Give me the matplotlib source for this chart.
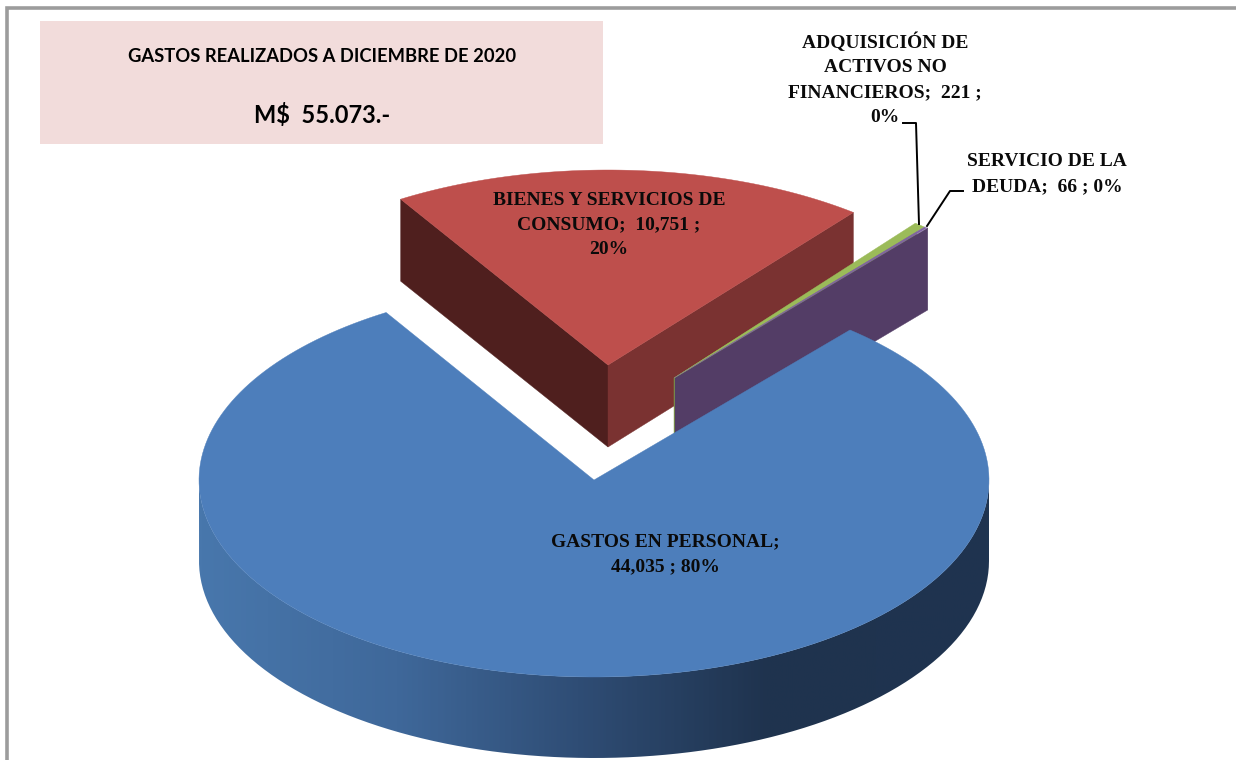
import matplotlib
matplotlib.use('Agg')
import matplotlib.pyplot as plt
import numpy as np
from matplotlib.patches import Polygon, Rectangle
from matplotlib.path import Path
from matplotlib.colors import LinearSegmentedColormap

categories = ['GASTOS EN PERSONAL', 'BIENES Y SERVICIOS DE CONSUMO',
              'ADQUISICIÓN DE ACTIVOS NO FINANCIEROS', 'SERVICIO DE LA DEUDA']
values = [44035, 10751, 221, 66]
label_text = ['GASTOS EN PERSONAL;\n44,035 ; 80%',
              'BIENES Y SERVICIOS DE\nCONSUMO;  10,751 ;\n20%',
              'ADQUISICIÓN DE\nACTIVOS NO\nFINANCIEROS;  221 ;\n0%',
              'SERVICIO DE LA\nDEUDA;  66 ; 0%']
title_text = 'GASTOS REALIZADOS A DICIEMBRE DE 2020'
total_text = 'M$  55.073.-'

start_angle = 40.4
serif = 'Liberation Serif'

# pixel canvas, y goes down like in the original
fig = plt.figure(figsize=(12.36, 7.6), dpi=100)
ax = fig.add_axes([0, 0, 1, 1])


def arc(cx, cy, rx, ry, a0, a1, n=200):
    t = np.radians(np.linspace(a0, a1, n))
    return np.column_stack([cx + rx * np.sin(t), cy - ry * np.cos(t)])


def wedge(cx, cy, rx, ry, a0, a1, color, z):
    pts = np.vstack([[cx, cy], arc(cx, cy, rx, ry, a0, a1)])
    ax.add_patch(Polygon(pts, closed=True, fc=color, ec=color, lw=0.3, zorder=z))


def wall(cx, cy, rx, ry, a, h, color, z):
    p = arc(cx, cy, rx, ry, a, a, 1)[0]
    pts = [[cx, cy], p, [p[0], p[1] + h], [cx, cy + h]]
    ax.add_patch(Polygon(pts, closed=True, fc=color, ec=color, lw=0.3, zorder=z))


sweep = 360 * np.array(values) / sum(values)
edges = start_angle + np.concatenate([[0], np.cumsum(sweep)])

# red slice
wall(608, 365, 394, 195, edges[1], 82, '#4f1f1e', 2)
wall(608, 365, 394, 195, edges[2], 82, '#7a3231', 2)
wedge(608, 365, 394, 195, edges[1], edges[2], '#be4f4c', 3)

# the two thin slices
wall(674, 378, 390, 197, edges[2], 82, '#7f9b45', 4)
wall(675, 378, 390, 197, edges[4], 82, '#533d66', 5)
wedge(674, 378, 390, 197, edges[2] - 0.3, edges[3], '#9bbb59', 6)
wedge(674, 378, 390, 197, edges[3], edges[4], '#8064a2', 6)

# blue slice, side with gradient then top
cx, cy, rx, ry, h = 594, 480, 395, 197, 81
front = arc(cx, cy, rx, ry, 90, 270)
side = np.vstack([front, front[::-1] + [0, h]])
cmap = LinearSegmentedColormap.from_list('side', [(0, '#4877ac'), (0.25, '#3f689a'), (0.48, '#2f4d75'),
                                                  (0.72, '#1f334e'), (1, '#1f3450')])
grad = np.linspace(0, 1, 400).reshape(1, -1)
im = ax.imshow(grad, cmap=cmap, extent=[cx - rx, cx + rx, cy + ry + h, cy], aspect='auto', zorder=7, vmin=0, vmax=1)
im.set_clip_path(Path(side), ax.transData)
wedge(cx, cy, rx, ry, edges[0], edges[1], '#4d7ebb', 8)

# frame and title box
ax.plot([7, 7, 1236], [760, 8, 8], color='#9c9c9c', lw=2.6, zorder=1, solid_joinstyle='miter')
ax.add_patch(Rectangle((40, 21), 563, 123, fc='#f2dcdb', ec='none', zorder=1))
ax.text(322, 57, title_text, family='Lato', weight='bold', fontsize=13.2, ha='center', va='center', zorder=10)
ax.text(322, 115, total_text, family='Lato', weight='bold', fontsize=17, ha='center', va='center', zorder=10)

# leader lines
ax.plot([903, 916, 919], [123, 123, 224], color='black', lw=1.4, zorder=9)
ax.plot([963, 950, 927], [191, 191, 226], color='black', lw=1.4, zorder=9)

# data labels
label_x = [665, 609, 885, 1047]
label_y = [554, 225, 79, 174]
for txt, x, y in zip(label_text, label_x, label_y):
    ax.text(x, y, txt, family=serif, weight='bold', fontsize=14, ha='center', va='center',
            linespacing=1.6, zorder=10, color='#0a0a0a')

ax.set_xlim(0, 1236)
ax.set_ylim(760, 0)
ax.axis('off')
fig.savefig('out.png', dpi=100, facecolor='white')
